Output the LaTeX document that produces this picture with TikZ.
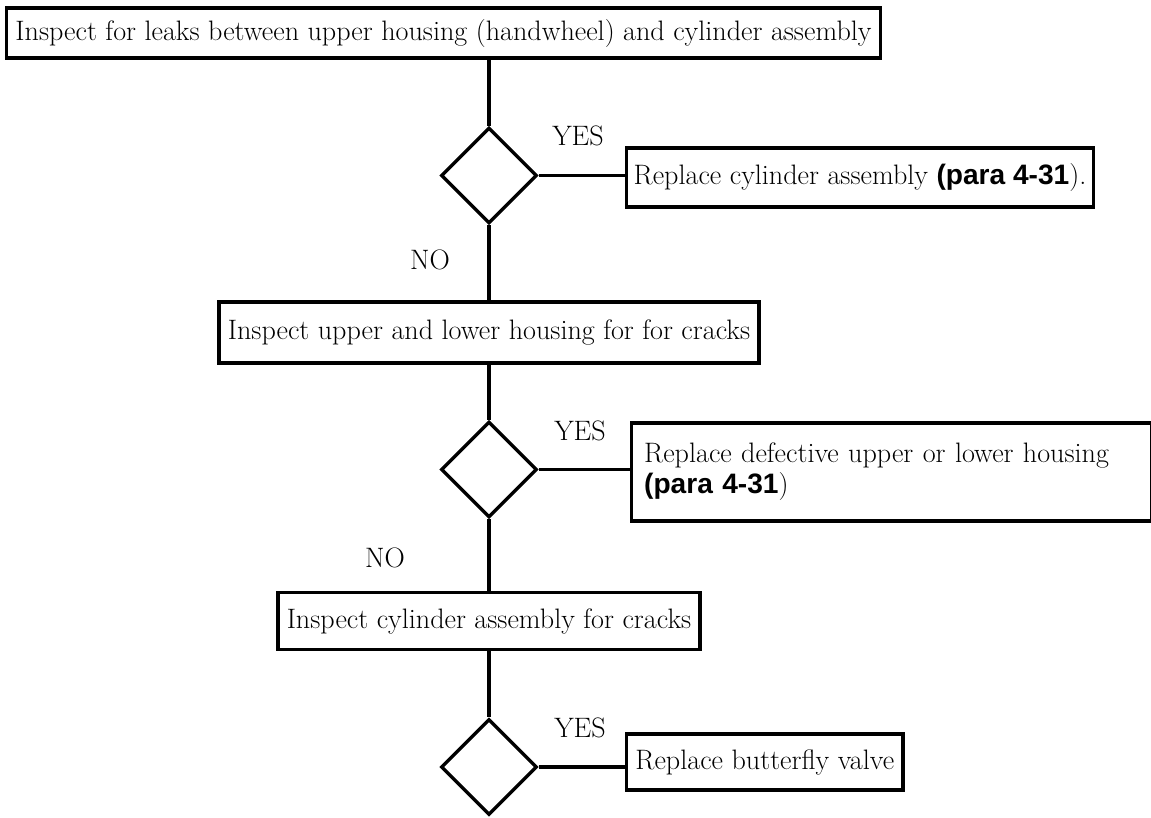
\documentclass[tikz,border=0pt]{standalone}
\usepackage{fontspec}
\setsansfont{Liberation Sans}
\usetikzlibrary{shapes.geometric}

\newcommand{\pararef}{{\sffamily\bfseries(para 4-31})}

\begin{document}
\begin{tikzpicture}[
    x=0.02cm, y=-0.02cm, line width=1.9pt,
    txt/.style={font=\fontsize{16}{19}\selectfont},
    box/.style={draw, txt, inner xsep=5pt},
    query/.style={draw, diamond, aspect=1, inner sep=0pt, minimum size=1.92cm},
    answer/.style={txt, inner sep=0pt},
  ]
    \useasboundingbox (0,0) rectangle (1151,817);
    % checks down the middle
    \node[box, anchor=west, minimum height=1.0cm] (top) at (5,33) {Inspect for leaks between upper housing (handwheel) and cylinder assembly};
    \node[box, minimum height=1.22cm] (chk2) at (489,332.5) {Inspect upper and lower housing for for cracks};
    \node[box, minimum height=1.14cm] (chk3) at (489,621) {Inspect cylinder assembly for cracks};
    \foreach \i/\y in {1/175.5, 2/469.5, 3/767}
      { \node[query] (q\i) at (489,\y) {}; }
    % repairs on the right
    \node[box, anchor=west, minimum height=1.18cm, inner xsep=4pt] (fix1) at (625,177.5) {Replace cylinder assembly \pararef.};
    \node[box, anchor=west, minimum height=1.96cm, minimum width=10.4cm, text width=9.9cm, align=left,
          font=\fontsize{16}{17.6}\selectfont] (fix2) at (630,472) {Replace defective upper or lower housing\\ \pararef};
    \node[box, anchor=west, minimum height=1.12cm] (fix3) at (625,762) {Replace butterfly valve};
    % answers
    \foreach \i/\x/\y/\t in {y1/578/136/YES, y2/580/431/YES, y3/580/728/YES, n1/430/260/NO, n2/385/558/NO}
      { \node[answer] (\i) at (\x,\y) {\t}; }
    % connectors
    \draw (q1.north) -- (q1.north |- top.south);
    \draw (q1.south) -- (q1.south |- chk2.north);
    \draw (chk2.south -| q2.north) -- (q2.north);
    \draw (q2.south) -- (q2.south |- chk3.north);
    \draw (chk3.south -| q3.north) -- (q3.north);
    \foreach \i in {1,2,3}
      { \draw (q\i.east) -- (q\i.east -| fix\i.west); }
  \end{tikzpicture}
\end{document}
